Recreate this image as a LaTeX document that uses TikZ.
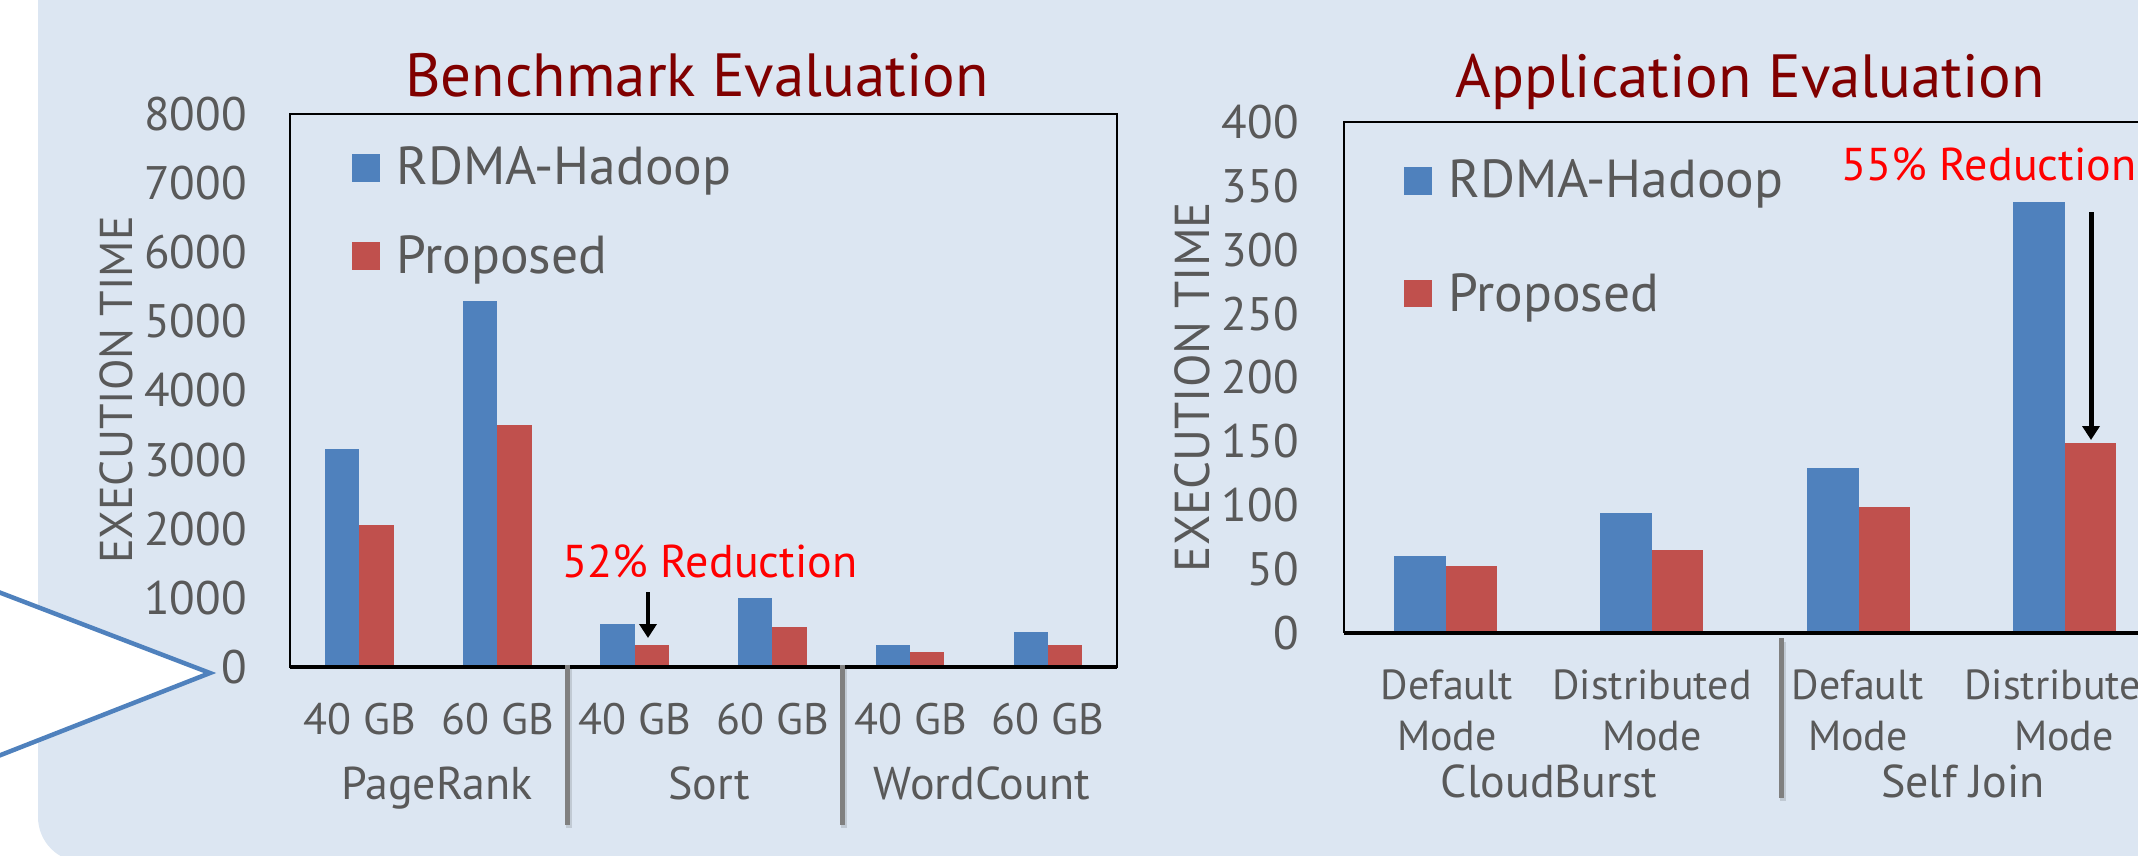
\documentclass[tikz,border=0pt]{standalone}
\usepackage{fontspec}
\setmainfont{PT Sans}
\usetikzlibrary{arrows.meta}
\definecolor{bg}{RGB}{220,230,242}
\definecolor{barblue}{RGB}{79,129,189}
\definecolor{barred}{RGB}{192,80,77}
\definecolor{txtgrey}{RGB}{89,89,89}
\definecolor{titlered}{RGB}{128,0,0}
\definecolor{sepgrey}{RGB}{128,128,128}
\definecolor{callblue}{RGB}{79,129,189}
\begin{document}
\begin{tikzpicture}[x=1pt,y=-1pt,
  ticklbl/.style={anchor=east,inner sep=0pt,text=txtgrey,font=\fontsize{47}{50}\selectfont},
  titlelbl/.style={anchor=base,inner sep=0pt,text=titlered,font=\fontsize{61}{64}\selectfont},
  leglbl/.style={anchor=base west,inner sep=0pt,text=txtgrey,font=\fontsize{53.5}{56}\selectfont},
  xlbl/.style={anchor=base,inner sep=0pt,text=txtgrey,font=\fontsize{44}{48}\selectfont},
  grplbl/.style={anchor=base,inner sep=0pt,text=txtgrey,font=\fontsize{46}{50}\selectfont},
  redlbl/.style={anchor=base,inner sep=0pt,text=red,font=\fontsize{46}{50}\selectfont},
  axlbl/.style={rotate=90,inner sep=0pt,text=txtgrey},
  bluebar/.style={fill=barblue},
  redbar/.style={fill=barred},
  frameline/.style={draw=black,line width=1.8pt},
  axisline/.style={draw=black,line width=3.5pt},
  sepline/.style={draw=sepgrey,line width=5pt},
  sepshadow/.style={draw=black,opacity=0.12,line width=6pt},
  redarrow/.style={draw=black,-{Triangle[length=14pt,width=17pt]}}
]
\useasboundingbox (0,0) rectangle (2138,855);
% background panel
\fill[bg,rounded corners=45pt] (38,-60) rectangle (2220,862);
% callout pointer
\coordinate (ct) at (210,673);
\coordinate (cu) at (-12,588);
\coordinate (cl) at (-12,760);
\filldraw[fill=white,draw=callblue,line width=4.5pt,line join=miter] (cu) -- (ct) -- (cl);

% ================= LEFT CHART =================
\node[titlelbl] (t1) at (697,96) {Benchmark Evaluation};
\draw[frameline] (290,114) rectangle (1117,667);
% ticks
\foreach \k/\lab in {0/0,1/1000,2/2000,3/3000,4/4000,5/5000,6/6000,7/7000,8/8000}
  \node[ticklbl] (lt\k) at (247,{667-\k*69.125}) {\lab};
\node[axlbl,font=\fontsize{46}{50}\selectfont] (ly) at (116,390) {EXECUTION TIME};
% legend
\fill[bluebar] (352,154) rectangle (380,182);
\node[leglbl] (lg1) at (396,184) {RDMA-Hadoop};
\fill[redbar] (352,242) rectangle (380,270);
\node[leglbl] (lg2) at (396,273) {Proposed};
% bars
\foreach \xa/\xb/\xc/\tb/\tr in {325/359/394/449/525, 463/497/532/301/425, 600/635/669/624/645, 738/772/807/598/627, 876/910/944/645/652, 1014/1048/1082/632/645}{
  \fill[bluebar] (\xa,\tb) rectangle (\xb,667);
  \fill[redbar] (\xb,\tr) rectangle (\xc,667);
}
\draw[axisline] (290,667) -- (1117,667);
% category labels
\foreach \cx/\lab [count=\i] in {360/40 GB,498/60 GB,635/40 GB,773/60 GB,911/40 GB,1048/60 GB}
  \node[xlbl] (lx\i) at (\cx,734) {\lab};
\node[grplbl] (g1) at (437,799) {PageRank};
\node[grplbl] (g2) at (709,799) {Sort};
\node[grplbl] (g3) at (982,799) {WordCount};
% separators
\draw[sepshadow] (569,669) -- (569,828);
\draw[sepline] (567,665) -- (567,825);
\draw[sepshadow] (844,669) -- (844,828);
\draw[sepline] (842,665) -- (842,825);
% annotation
\node[redlbl] (r1) at (710,577) {52\% Reduction};
\coordinate (a1s) at (648,592);
\coordinate (a1e) at (648,638);
\draw[redarrow,line width=4pt] (a1s) -- (a1e);

% ================= RIGHT CHART =================
\node[titlelbl] (t2) at (1750,97) {Application Evaluation};
\draw[frameline] (2200,122) -- (1344,122) -- (1344,633);
\foreach \k/\lab in {0/0,1/50,2/100,3/150,4/200,5/250,6/300,7/350,8/400}
  \node[ticklbl] (rt\k) at (1299,{633-\k*63.875}) {\lab};
\node[axlbl,font=\fontsize{49}{52}\selectfont] (ry) at (1192,387) {EXECUTION TIME};
% legend
\fill[bluebar] (1404,167) rectangle (1432,195);
\node[leglbl] (rg1) at (1448,197) {RDMA-Hadoop};
\fill[redbar] (1404,280) rectangle (1432,307);
\node[leglbl] (rg2) at (1448,311) {Proposed};
% bars
\foreach \xa/\xb/\xc/\tb/\tr in {1394/1446/1497/556/566, 1600/1652/1703/513/550, 1807/1859/1910/468/507, 2013/2065/2116/202/443}{
  \fill[bluebar] (\xa,\tb) rectangle (\xb,633);
  \fill[redbar] (\xb,\tr) rectangle (\xc,633);
}
\draw[axisline] (1344,633) -- (2200,633);
% category labels
\node[xlbl,font=\fontsize{42}{46}\selectfont] (d1) at (1447,699) {Default};
\node[xlbl,font=\fontsize{42}{46}\selectfont] (m1) at (1447,750) {Mode};
\node[xlbl,font=\fontsize{42}{46}\selectfont] (d2) at (1652,699) {Distributed};
\node[xlbl,font=\fontsize{42}{46}\selectfont] (m2) at (1652,750) {Mode};
\node[xlbl,font=\fontsize{42}{46}\selectfont] (d3) at (1858,699) {Default};
\node[xlbl,font=\fontsize{42}{46}\selectfont] (m3) at (1858,750) {Mode};
\node[xlbl,font=\fontsize{42}{46}\selectfont] (d4) at (2064,699) {Distributed};
\node[xlbl,font=\fontsize{42}{46}\selectfont] (m4) at (2064,750) {Mode};
\node[grplbl] (cb) at (1549,797) {CloudBurst};
\node[grplbl] (sj) at (1963,797) {Self Join};
\draw[sepshadow] (1783,642) -- (1783,801);
\draw[sepline] (1781,638) -- (1781,798);
% annotation
\node[redlbl] (r2) at (1989,180) {55\% Reduction};
\coordinate (a2s) at (2091,212);
\coordinate (a2e) at (2091,440);
\draw[redarrow,line width=5pt] (a2s) -- (a2e);
\end{tikzpicture}
\end{document}
